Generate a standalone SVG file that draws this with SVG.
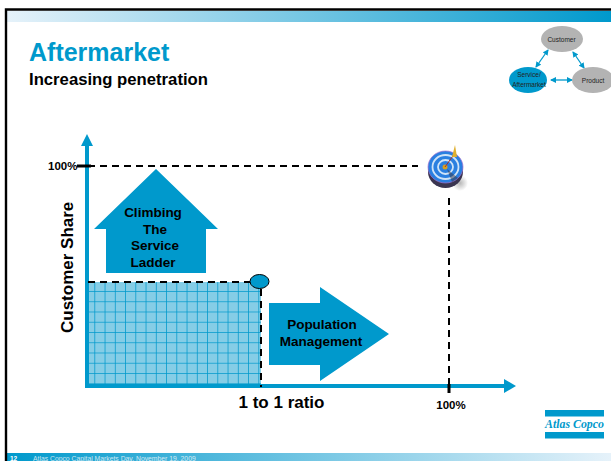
<svg xmlns="http://www.w3.org/2000/svg" width="611" height="461" viewBox="0 0 611 461">
<style>
text{font-family:"Liberation Sans",Arial,sans-serif;font-weight:bold;fill:#000}
.c{text-anchor:middle}
.s{font-size:6.5px;font-weight:normal;fill:#222}
.d{stroke:#000;stroke-width:2;stroke-dasharray:7 5;fill:none}
.a{stroke:#0099cc;stroke-width:1.3;fill:none;marker-start:url(#m);marker-end:url(#m)}
.b{fill:#0099cc}
</style>
<defs>
<linearGradient id="t"><stop offset="0" stop-color="#e6f2fa"/><stop offset="1" stop-color="#0099cc"/></linearGradient>
<linearGradient id="f"><stop offset="0" stop-color="#0099cc"/><stop offset="1" stop-color="#e6f2fa"/></linearGradient>
<pattern id="g" x="85" y="281.7" width="10.25" height="10.25" patternUnits="userSpaceOnUse">
<path d="M10 0V10.25M0 10H10.25" stroke="#0099cc" stroke-width="1"/>
</pattern>
<radialGradient id="sh"><stop offset="0" stop-color="#888" stop-opacity=".6"/><stop offset="1" stop-color="#888" stop-opacity="0"/></radialGradient>
<marker id="m" markerWidth="6" markerHeight="6" refX="5" refY="3" orient="auto-start-reverse" markerUnits="userSpaceOnUse"><path d="M0 0L6 3L0 6Z" fill="#0099cc"/></marker>
</defs>
<g id="frame">
<rect x="5" y="8" width="606" height="453" fill="#fff"/>
<rect x="7" y="11" width="604" height="11" fill="url(#t)"/>
<rect x="7" y="453" width="604" height="8" fill="url(#f)"/>
<path d="M6 461V9.500H611" fill="none" stroke="#000" stroke-width="2.400"/>
</g>
<g id="titles">
<text x="29" y="60.500" font-size="25" style="fill:#0099cc">Aftermarket</text>
<text x="29" y="85" font-size="16.700">Increasing penetration</text>
</g>
<g id="connectors">
<rect x="88" y="282" width="173" height="104" fill="#85cde6"/>
<rect x="88" y="282" width="173" height="104" fill="url(#g)"/>
<path class="b" d="M85 388V146H81L87 134L93 146H89V384H504V379L516 386L504 393V388Z"/>
<path class="d" d="M88 166H418M88 282H252M261 289V387M449 198V384"/>
<path d="M77 166H91" stroke="#000" stroke-width="3"/>
<path d="M449 384V393" stroke="#000" stroke-width="3"/>
<path class="a" d="M536 67L548 50"/>
<path class="a" d="M573 52L584 68"/>
<path class="a" d="M551 80H572"/>
</g>
<g id="up"><path class="b" d="M156 169L218 229H206V273H106V229H94Z"/>
<text class="c" x="153" y="217" font-size="13.500">Climbing</text>
<text class="c" x="155" y="234" font-size="13.500">The</text>
<text class="c" x="155" y="250" font-size="13.500">Service</text>
<text class="c" x="153" y="267" font-size="13.500">Ladder</text></g>
<g id="right"><path class="b" d="M269 303H320V287L389 334L320 381V365H269Z"/>
<text class="c" x="322" y="329" font-size="13.500">Population</text>
<text class="c" x="321" y="346" font-size="13.500">Management</text></g>
<g id="dot"><ellipse class="b" cx="259.500" cy="281.500" rx="9.500" ry="7" stroke="#000" stroke-width="1"/></g>
<g id="labels">
<text x="48" y="170" font-size="11.500">100%</text>
<text transform="translate(73 333) rotate(-90)" font-size="17">Customer Share</text>
<text class="c" x="281.500" y="408" font-size="17">1 to 1 ratio</text>
<text class="c" x="451" y="409" font-size="11.500">100%</text>
</g>
<g id="target">
<ellipse cx="460" cy="183" rx="8" ry="8" fill="url(#sh)"/>
<ellipse cx="445.500" cy="172" rx="17.500" ry="16" fill="#3a3550"/>
<ellipse cx="445.500" cy="167" rx="17.500" ry="16" fill="#2a7fe0" stroke="#a070d0" stroke-width=".7"/>
<ellipse cx="445.500" cy="167" rx="13" ry="12" fill="none" stroke="#cfe3f7" stroke-width="1.800"/>
<ellipse cx="445.500" cy="167" rx="7.500" ry="7" fill="none" stroke="#cfe3f7" stroke-width="1.800"/>
<path d="M447 169L458 178L452 182Z" fill="#334" opacity=".5"/>
<circle cx="445" cy="167" r="2.500" fill="#d8a020"/>
<path d="M445 167L455 153" stroke="#a03030" stroke-width="1"/>
<path d="M452 157L455 145L457 157Z" fill="#e0b030"/>
</g>
<g id="customer"><ellipse cx="562" cy="39" rx="21" ry="13" fill="#b3b3b3"/><text class="c s" x="561.500" y="42">Customer</text></g>
<g id="service"><ellipse class="b" cx="528" cy="80" rx="19" ry="13"/><text class="c s" x="529" y="77">Service/</text><text class="c s" x="529" y="87">Aftermarket</text></g>
<g id="product"><ellipse cx="593" cy="80" rx="21" ry="13" fill="#b3b3b3"/><text class="c s" x="593" y="83">Product</text></g>
<g id="logo">
<rect x="545" y="410" width="59" height="6.500" class="b"/>
<rect x="545" y="432" width="59" height="6.500" class="b"/>
<text x="545" y="428" font-size="13" textLength="59" lengthAdjust="spacingAndGlyphs" style="font-family:'Liberation Serif',serif;font-style:italic;fill:#0099cc">Atlas Copco</text>
</g>
<g id="footer">
<text x="10" y="461" font-size="6.500" style="fill:#fff">12</text>
<text x="33" y="461" font-size="6.800" style="fill:#fff;font-weight:normal;opacity:.75">Atlas Copco Capital Markets Day, November 19, 2009</text>
</g>
</svg>
